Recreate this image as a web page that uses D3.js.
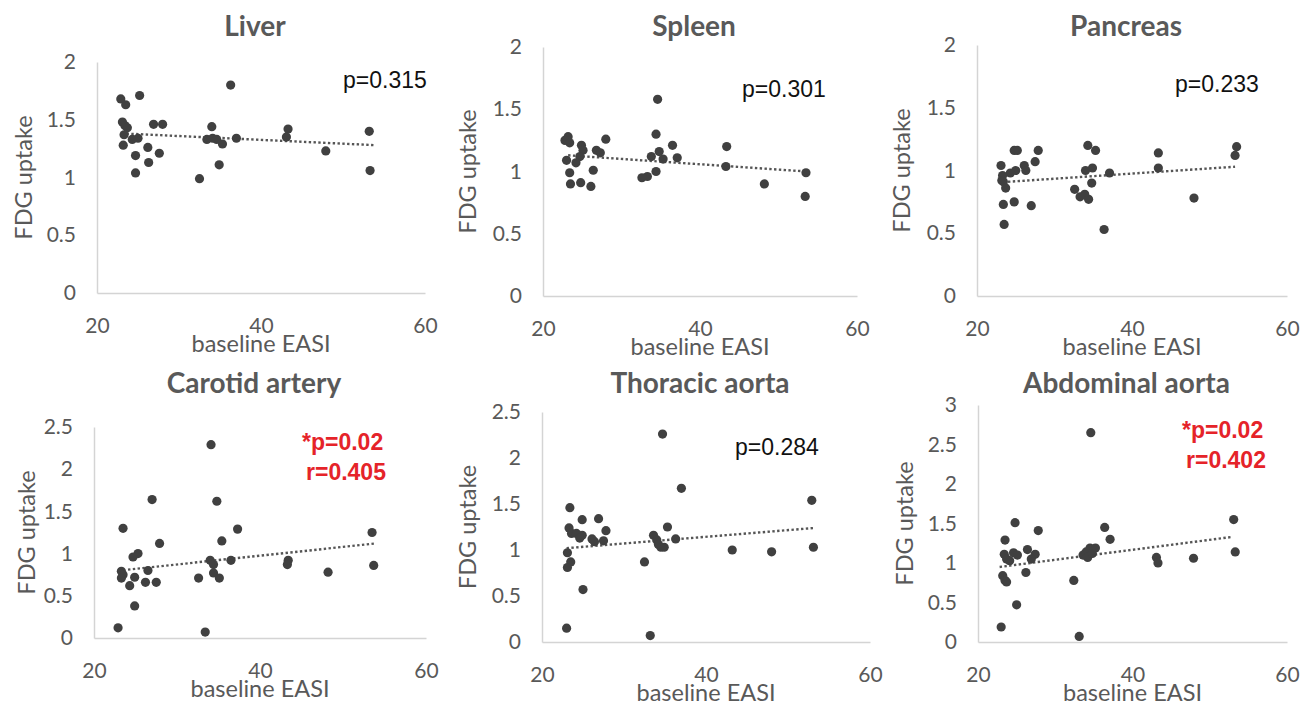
<!DOCTYPE html>
<html>
<head>
<meta charset="utf-8">
<script src="https://cdn.jsdelivr.net/npm/d3@7"></script>
<style>
  body { margin: 0; background: #fff; }
  svg { display: block; }
  .tick text { font-family: Lato, sans-serif; font-size: 21px; fill: #595959; }
  .domain { stroke: #d4d4d4; stroke-width: 1.5; }
  .title { font-family: Lato, sans-serif; font-weight: bold; font-size: 28px; fill: #595959; }
  .axlabel { font-family: Lato, sans-serif; font-size: 23.5px; fill: #595959; }
  .note { font-family: "Liberation Sans", Arial, sans-serif; font-size: 23px; }
</style>
</head>
<body>
<svg width="1301" height="707"></svg>
<script>
// values: x = baseline EASI, y = FDG uptake
const xTicks = [20, 40, 60];
const yTicks2 = [0, 0.5, 1, 1.5, 2];
const yTicks25 = [0, 0.5, 1, 1.5, 2, 2.5];
const yTicks3 = [0, 0.5, 1, 1.5, 2, 2.5, 3];

const liverEASI = [36.3,22.9,23.5,25.2,23.1,23.4,23.7,26.9,28.0,23.3,24.3,25.0,23.2,24.7,26.2,27.6,26.3,24.7,34.0,33.4,34.1,34.6,35.3,37.0,34.9,32.5,43.3,43.1,47.9,53.2,53.3];
const liverFDG  = [1.80,1.68,1.63,1.71,1.48,1.45,1.43,1.46,1.46,1.37,1.33,1.34,1.28,1.19,1.26,1.21,1.13,1.04,1.44,1.33,1.34,1.33,1.29,1.34,1.11,0.99,1.42,1.35,1.23,1.40,1.06];

const spleenEASI = [34.6,23.2,22.8,23.4,24.9,25.1,28.0,26.8,27.3,24.7,23.0,24.2,26.4,23.4,23.5,24.8,26.1,34.4,36.5,34.8,33.8,35.3,37.1,34.4,33.3,32.6,43.4,43.3,48.2,53.5,53.4];
const spleenFDG  = [1.58,1.28,1.25,1.23,1.21,1.17,1.26,1.17,1.15,1.12,1.09,1.07,1.01,0.99,0.90,0.91,0.88,1.30,1.21,1.16,1.12,1.10,1.11,1.00,0.96,0.95,1.20,1.04,0.90,0.99,0.80];

const pancreasEASI = [24.8,25.2,27.9,23.1,27.5,26.1,26.3,25.0,24.3,23.3,23.2,23.4,23.7,23.4,24.8,27.0,23.5,34.3,35.3,34.9,34.0,37.1,34.8,32.6,33.3,33.9,34.4,36.4,43.4,43.4,48.0,53.5,53.3];
const pancreasFDG  = [1.16,1.16,1.16,1.04,1.07,1.04,1.00,1.00,0.98,0.96,0.92,0.91,0.86,0.73,0.75,0.72,0.57,1.20,1.16,1.02,1.00,0.98,0.90,0.85,0.79,0.81,0.77,0.53,1.14,1.02,0.78,1.19,1.12];

const carotidEASI = [34.1,27.0,34.8,23.5,37.3,35.4,27.9,53.5,25.3,24.7,34.0,34.4,36.5,43.4,43.3,23.3,23.5,23.3,24.9,26.5,24.3,26.2,27.5,32.6,34.4,35.1,48.2,53.7,24.9,22.9,33.4];
const carotidFDG  = [2.29,1.64,1.62,1.30,1.29,1.15,1.12,1.25,1.00,0.96,0.92,0.87,0.92,0.92,0.87,0.79,0.75,0.71,0.72,0.80,0.62,0.66,0.66,0.71,0.77,0.71,0.78,0.86,0.38,0.12,0.07];

const thoracicEASI = [34.7,37.0,52.9,23.4,24.9,26.9,23.3,23.6,24.2,24.9,24.6,27.8,26.1,26.4,27.5,35.3,33.6,34.0,34.2,34.5,34.9,36.3,43.2,48.0,53.1,23.1,23.5,23.1,32.5,25.0,23.0,33.2];
const thoracicFDG  = [2.26,1.67,1.54,1.46,1.33,1.34,1.24,1.18,1.18,1.16,1.13,1.21,1.12,1.09,1.10,1.25,1.16,1.11,1.06,1.03,1.03,1.12,1.00,0.98,1.03,0.97,0.87,0.81,0.87,0.57,0.15,0.07];

const abdominalEASI = [34.6,24.8,27.8,36.4,37.1,53.1,23.5,23.4,23.7,24.6,25.1,24.1,26.4,27.4,26.9,26.2,33.6,34.0,34.5,34.2,35.2,34.8,43.1,43.3,47.9,53.3,23.2,23.5,23.7,32.4,25.0,23.0,33.1];
const abdominalFDG  = [2.65,1.51,1.41,1.45,1.30,1.55,1.29,1.11,1.05,1.13,1.10,1.03,1.17,1.11,1.05,0.88,1.10,1.14,1.19,1.07,1.19,1.12,1.07,1.00,1.06,1.14,0.84,0.78,0.76,0.78,0.47,0.19,0.07];

// dotted trend lines, end points [EASI, FDG]
const liverTrend = [[23.6,1.38],[53.9,1.28]];
const spleenTrend = [[23.2,1.13],[53.6,1.00]];
const pancreasTrend = [[24.0,0.91],[53.3,1.03]];
const carotidTrend = [[24.1,0.81],[53.9,1.12]];
const thoracicTrend = [[23.0,1.02],[53.3,1.24]];
const abdominalTrend = [[22.8,0.95],[52.9,1.33]];

const titles = ["Liver", "Spleen", "Pancreas", "Carotid artery", "Thoracic aorta", "Abdominal aorta"];
const notes = [["p=0.315"], ["p=0.301"], ["p=0.233"], ["*p=0.02", "r=0.405"], ["p=0.284"], ["*p=0.02", "r=0.402"]];
const significant = [false, false, false, true, false, true];

const svg = d3.select("svg");

// pixel frame of each small chart
const panels = [
  {x: liverEASI, y: liverFDG, trend: liverTrend, ticks: yTicks2, l: 97, r: 425, t: 62, b: 293, lab: 73, note: [343, 88]},
  {x: spleenEASI, y: spleenFDG, trend: spleenTrend, ticks: yTicks2, l: 543, r: 857, t: 47, b: 296, lab: 75, note: [742, 97]},
  {x: pancreasEASI, y: pancreasFDG, trend: pancreasTrend, ticks: yTicks2, l: 977, r: 1287, t: 45, b: 296, lab: 75, note: [1175, 92]},
  {x: carotidEASI, y: carotidFDG, trend: carotidTrend, ticks: yTicks25, l: 94, r: 426, t: 427, b: 638, lab: 67, note: [302, 450]},
  {x: thoracicEASI, y: thoracicFDG, trend: thoracicTrend, ticks: yTicks25, l: 542, r: 870, t: 412, b: 642, lab: 74, note: [735, 455]},
  {x: abdominalEASI, y: abdominalFDG, trend: abdominalTrend, ticks: yTicks3, l: 978, r: 1287, t: 405, b: 642, lab: 73, note: [1182, 438]}
];

panels.forEach((p, i) => {
  const yMax = p.ticks[p.ticks.length - 1];
  const x = d3.scaleLinear().domain([20, 60]).range([p.l, p.r]);
  const y = d3.scaleLinear().domain([0, yMax]).range([p.b, p.t]);
  const g = svg.append("g");

  g.append("g")
    .attr("transform", `translate(0,${p.b})`)
    .call(d3.axisBottom(x).tickValues(xTicks).tickSize(0).tickSizeOuter(0).tickPadding(25))
    .call(a => a.selectAll(".tick line").remove());

  g.append("g")
    .attr("transform", `translate(${p.l},0)`)
    .call(d3.axisLeft(y).tickValues(p.ticks).tickFormat(d3.format("~g")).tickSize(0).tickSizeOuter(0).tickPadding(21))
    .call(a => a.selectAll(".tick line").remove());

  g.append("path")
    .datum(p.trend)
    .attr("fill", "none")
    .attr("stroke", "#555")
    .attr("stroke-width", 2.4)
    .attr("stroke-dasharray", "2.4,2.4")
    .attr("d", d3.line().x(d => x(d[0])).y(d => y(d[1])));

  g.selectAll("circle")
    .data(p.x.map((v, k) => [v, p.y[k]]))
    .enter().append("circle")
    .attr("cx", d => x(d[0]))
    .attr("cy", d => y(d[1]))
    .attr("r", 4.6)
    .attr("fill", "#404040");

  const cx = (p.l + p.r) / 2;
  g.append("text")
    .attr("class", "title")
    .attr("x", cx - 6)
    .attr("y", p.t < 100 ? 36 : 393)
    .attr("text-anchor", "middle")
    .text(titles[i]);

  g.append("text")
    .attr("class", "axlabel")
    .attr("x", cx)
    .attr("y", p.b + 59)
    .attr("text-anchor", "middle")
    .text("baseline EASI");

  g.append("text")
    .attr("class", "axlabel")
    .attr("transform", `translate(${p.l - p.lab},${(p.t + p.b) / 2}) rotate(-90)`)
    .attr("dy", "0.35em")
    .attr("text-anchor", "middle")
    .text("FDG uptake");

  notes[i].forEach((s, k) => {
    g.append("text")
      .attr("class", "note")
      .attr("x", p.note[0] + k * 4)
      .attr("y", p.note[1] + k * 30)
      .attr("fill", significant[i] ? "#e52329" : "#111")
      .attr("font-weight", significant[i] ? "bold" : "normal")
      .text(s);
  });
});
</script>
</body>
</html>
